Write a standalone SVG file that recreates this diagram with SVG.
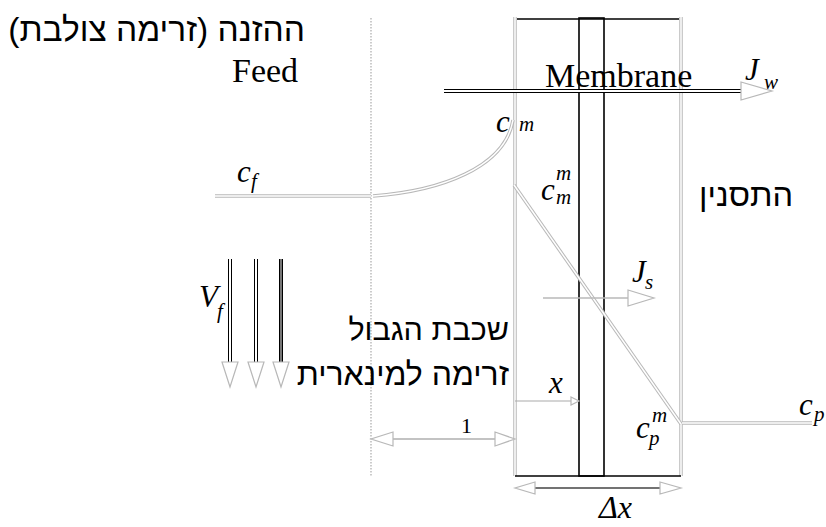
<svg xmlns="http://www.w3.org/2000/svg" width="826" height="527" viewBox="0 0 826 527">
<style>
.heb{font-family:"Liberation Sans","DejaVu Sans",sans-serif;fill:#000;direction:rtl}
.rm{font-family:"Liberation Serif",serif;fill:#000}
.it{font-family:"Liberation Serif",serif;font-style:italic;fill:#000}
.c{font-size:31px}
.s{font-size:21px}
.go{fill:none;stroke:#b8b8b8;stroke-width:3.5}
.gi{fill:none;stroke:#fff;stroke-width:1.5}
.bo{fill:none;stroke:#000;stroke-width:4}
.wi{fill:none;stroke:#fff;stroke-width:2}
.blk{fill:none;stroke:#000;stroke-width:1.6}
.tri{fill:#fff;stroke:#b8b8b8;stroke-width:1.2}
.dot{fill:none;stroke:#aaa;stroke-width:1.2;stroke-dasharray:1.5 1.5}
</style>
<rect width="826" height="527" fill="#fff"/>

<g id="boundary-layer-edge">
<line class="dot" x1="371" y1="18" x2="371" y2="477"/>
</g>

<g id="membrane-cell">
<line class="go" x1="515" y1="17" x2="515" y2="476"/>
<line class="gi" x1="515" y1="17" x2="515" y2="476"/>
<line class="go" x1="681" y1="17" x2="681" y2="476"/>
<line class="gi" x1="681" y1="17" x2="681" y2="476"/>
<line class="blk" x1="517" y1="19" x2="679" y2="19"/>
<line class="blk" x1="515" y1="476" x2="681" y2="476"/>
<rect x="579" y="18" width="25" height="458" fill="none" stroke="#000" stroke-width="1.6"/>
</g>

<g id="connectors">
<path class="go" d="M215,196 L371,196"/>
<path class="gi" d="M215,196 L371,196"/>
<path class="go" d="M373,196 C440,191 505,168 513,120"/>
<path class="gi" d="M373,196 C440,191 505,168 513,120"/>
<path class="go" d="M514,185 L681,424"/>
<path class="gi" d="M514,185 L681,424"/>
<path class="go" d="M682,423 L812,423"/>
<path class="gi" d="M682,423 L812,423"/>

<path class="bo" d="M444,91 L743,91"/>
<path class="wi" d="M444,91 L743,91"/>
<polygon class="tri" points="741,82 772,91 741,100"/>

<line x1="543" y1="298" x2="630" y2="298" stroke="#b8b8b8" stroke-width="1.5"/>
<polygon class="tri" points="628,290 654,298 628,306"/>

<path class="bo" d="M230,259 L230,362"/>
<path class="wi" d="M230,259 L230,362"/>
<path class="bo" d="M256,259 L256,362"/>
<path class="wi" d="M256,259 L256,362"/>
<path class="bo" d="M281,259 L281,362"/>
<path d="M281,259 L281,362" fill="none" stroke="#777" stroke-width="2"/>
<polygon class="tri" points="222,362 238,362 230,387"/>
<polygon class="tri" points="248,362 264,362 256,387"/>
<polygon class="tri" points="273,362 289,362 281,387"/>

<line x1="515" y1="401" x2="572" y2="401" stroke="#aaa" stroke-width="1.2"/>
<polygon class="tri" points="571,397 579,401 571,405"/>

<line x1="392" y1="439" x2="495" y2="439" stroke="#888" stroke-width="1.2"/>
<polygon class="tri" points="393,432 371,439 393,446"/>
<polygon class="tri" points="495,432 515,439 495,446"/>

<line x1="534" y1="488" x2="661" y2="488" stroke="#444" stroke-width="1.4"/>
<polygon class="tri" points="535,482 515,488 535,494"/>
<polygon class="tri" points="660,482 681,488 660,494"/>
</g>

<g id="labels">
<text class="heb" x="305" y="41" font-size="33.5">ההזנה (זרימה צולבת)</text>
<text class="rm" x="232" y="82" font-size="34">Feed</text>
<text class="rm" x="545" y="87" font-size="34">Membrane</text>
<text class="it" x="745" y="80" font-size="31">J</text>
<text class="it s" x="764" y="89">w</text>
<text class="it c" x="496" y="132">c</text>
<text class="it s" x="519" y="131">m</text>
<text class="it c" x="237" y="182">c</text>
<text class="it s" x="251" y="188">f</text>
<text class="it c" x="541" y="200">c</text>
<text class="it s" x="556" y="180">m</text>
<text class="it s" x="556" y="204">m</text>
<text class="heb" x="793" y="206" font-size="32.5">התסנין</text>
<text class="it" x="632" y="282" font-size="31">J</text>
<text class="it s" x="645" y="289">s</text>
<text class="it" x="199" y="307" font-size="31">V</text>
<text class="it s" x="217" y="318">f</text>
<text class="heb" x="509" y="340" font-size="30.5">שכבת הגבול</text>
<text class="heb" x="509" y="385" font-size="32">זרימה למינארית</text>
<text class="it c" x="549" y="393">x</text>
<text class="rm" x="461" y="433" font-size="22">1</text>
<text class="it c" x="636" y="438">c</text>
<text class="it s" x="652" y="422">m</text>
<text class="it s" x="649" y="445">p</text>
<text class="it c" x="799" y="415">c</text>
<text class="it s" x="814" y="421">p</text>
<text class="it" x="599" y="518" font-size="32">Δx</text>
</g>
</svg>
